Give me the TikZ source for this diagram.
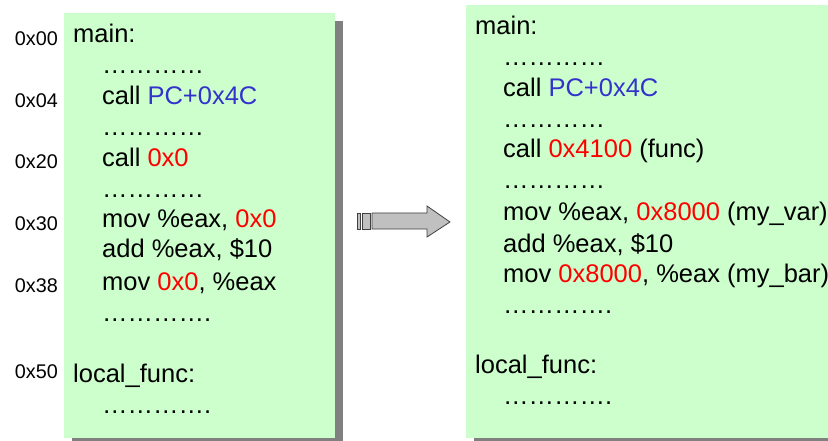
\documentclass[tikz,border=0pt]{standalone}
\usepackage{fontspec}
\setmainfont{Liberation Sans}
\usetikzlibrary{shadows}
\definecolor{boxgreen}{HTML}{CCFFCC}
\definecolor{shadowgray}{HTML}{808080}
\definecolor{addrblue}{HTML}{3333CC}
\definecolor{addrred}{HTML}{FF0000}
\definecolor{arrowfill}{HTML}{C0C0C0}
\definecolor{arrowline}{HTML}{404040}
\tikzset{
  codebox/.style={fill=boxgreen, draw=none, inner sep=0pt,
    drop shadow={shadow xshift=8pt, shadow yshift=-8pt, fill=shadowgray, opacity=1}},
  code/.style={anchor=base west, inner sep=0pt, font=\fontsize{25.5}{30}\selectfont},
  addr/.style={anchor=base east, inner sep=0pt, font=\fontsize{19.8}{24}\selectfont},
  arrowpart/.style={fill=arrowfill, draw=arrowline, line width=0.8pt, line join=miter},
}
\newcommand{\bl}[1]{\textcolor{addrblue}{#1}}
\newcommand{\rd}[1]{\textcolor{addrred}{#1}}
\begin{document}
\begin{tikzpicture}[x=1pt,y=-1pt]
\useasboundingbox (0,0) rectangle (828,441);
\clip (0,0) rectangle (828,441);
% boxes
\node[codebox, minimum width=271pt, minimum height=425pt] (L) at (199.5,225.5) {};
\node[codebox, minimum width=380pt, minimum height=433pt] (R) at (656,221.5) {};
% left addresses
\node[addr] (a00) at (58,46) {0x00};
\node[addr] (a04) at (58,108) {0x04};
\node[addr] (a20) at (58,169) {0x20};
\node[addr] (a30) at (58,230) {0x30};
\node[addr] (a38) at (58,292) {0x38};
\node[addr] (a50) at (58,378) {0x50};
% left code
\node[code] (l1) at (73,43) {main:};
\node[code] (l2) at (102,74) {…………};
\node[code] (l3) at (102,105) {call \bl{PC+0x4C}};
\node[code] (l4) at (102,136) {…………};
\node[code] (l5) at (102,167) {call \rd{0x0}};
\node[code] (l6) at (102,198) {…………};
\node[code] (l7) at (102,227) {mov \%eax, \rd{0x0}};
\node[code] (l8) at (102,258) {add \%eax, \$10};
\node[code] (l9) at (102,290) {mov \rd{0x0}, \%eax};
\node[code] (l10) at (102,321) {………….};
\node[code] (l11) at (73,382) {local\_func:};
\node[code] (l12) at (102,413) {………….};
% right code
\node[code] (r1) at (475,35) {main:};
\node[code] (r2) at (503,66) {…………};
\node[code] (r3) at (503,97) {call \bl{PC+0x4C}};
\node[code] (r4) at (503,128) {…………};
\node[code] (r5) at (503,158) {call \rd{0x4100} (func)};
\node[code] (r6) at (503,189) {…………};
\node[code] (r7) at (503,221) {mov \%eax, \rd{0x8000} (my\_var)};
\node[code] (r8) at (503,252) {add \%eax, \$10};
\node[code] (r9) at (503,282) {mov \rd{0x8000}, \%eax (my\_bar)};
\node[code] (r10) at (503,313) {………….};
\node[code] (r11) at (475,373) {local\_func:};
\node[code] (r12) at (503,404) {………….};
% arrow
\draw[arrowpart] (357.3,213) rectangle (360.7,229);
\draw[arrowpart] (362.7,213) rectangle (370,229);
\draw[arrowpart] (372,213) -- (427,213) -- (427,206) -- (450,222) -- (427,237) -- (427,229) -- (372,229) -- cycle;
\end{tikzpicture}
\end{document}
